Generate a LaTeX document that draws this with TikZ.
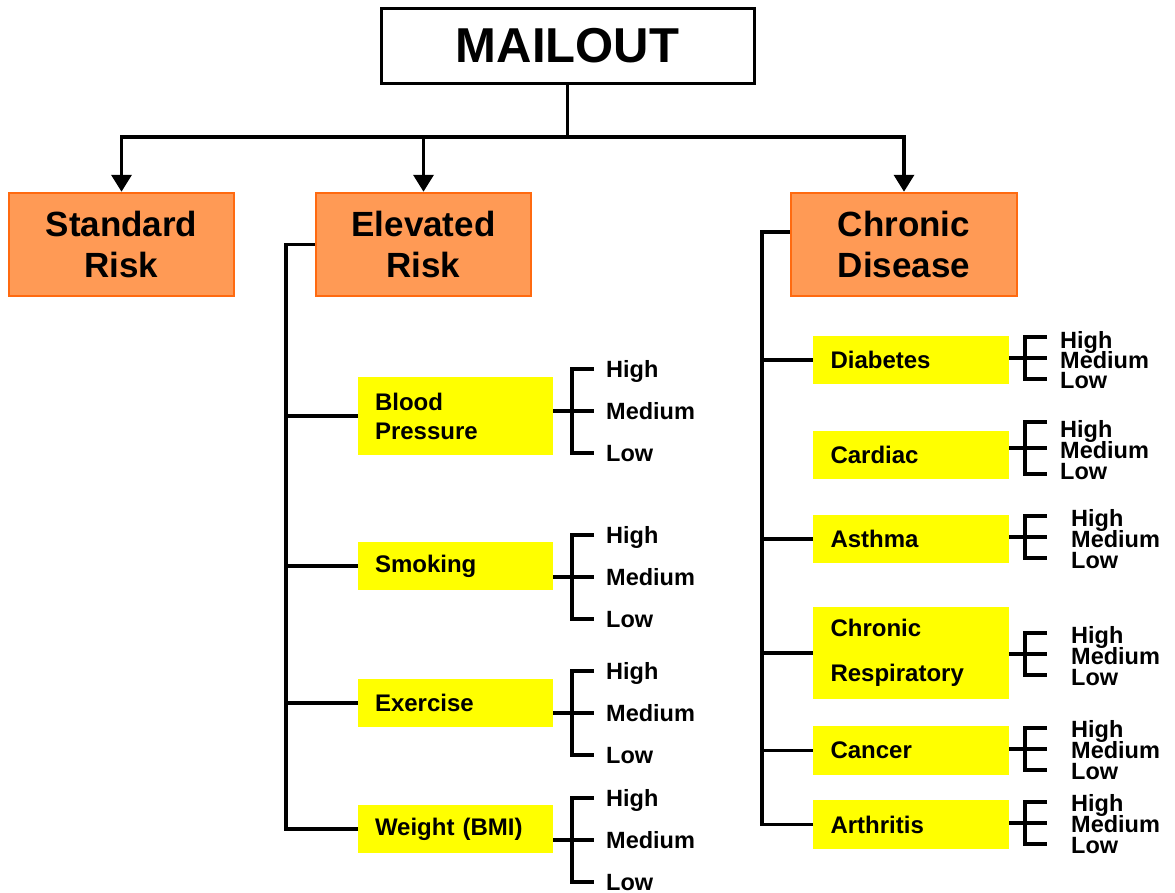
\documentclass[tikz,border=0pt]{standalone}
\usepackage{fontspec}
\setmainfont{Liberation Sans}
\usepackage{xcolor}
\usepackage{tikz}
\usetikzlibrary{arrows.meta}
\definecolor{riskfill}{HTML}{FF9A55}
\definecolor{riskedge}{HTML}{FF6A10}
\definecolor{itemfill}{HTML}{FFFF00}
\tikzset{
  headbox/.style={draw=black, line width=3pt, fill=white, minimum width=373pt, minimum height=75pt, font=\fontsize{49}{52}\selectfont\bfseries},
  riskbox/.style={draw=riskedge, fill=riskfill, line width=2.5pt, minimum height=103pt, align=center, inner sep=0pt, font=\fontsize{35}{41}\selectfont\bfseries},
  itembox/.style={fill=itemfill, minimum width=195pt, text width=161pt, inner xsep=17pt, inner ysep=0pt, align=left, font=\fontsize{24}{29}\selectfont\bfseries},
  lvl/.style={anchor=west, inner sep=0pt, text height=17pt, text depth=0pt, font=\fontsize{23.5}{25}\selectfont\bfseries},
  link/.style={draw=black, line width=3.5pt},
  down/.style={link, -{Triangle[length=17pt, width=20pt]}},
}

\begin{document}
\begin{tikzpicture}[x=1pt, y=-1pt]
  \useasboundingbox (0,0) rectangle (1175,892);
  \node[headbox] (mail) at (567.5,45.5) {MAILOUT};
  \node[riskbox, minimum width=225pt] (std) at (121.5,244.5) {Standard\\Risk};
  \node[riskbox, minimum width=215pt] (elev) at (423.5,244.5) {Elevated\\Risk};
  \node[riskbox, minimum width=226pt] (chron) at (904,244.5) {Chronic\\Disease};
  \coordinate (hub) at (567.5,137);
  \draw[link] (mail) -- (hub);
  \draw[down] (hub) -| (std.north);
  \draw[down] (hub) -| (elev.north);
  \draw[down] (hub) -| (chron.north);

  % elevated risk items
  \node[itembox, minimum height=78pt] (bp) at (455.5,416) {Blood\\Pressure};
  \node[itembox, minimum height=48pt] (smok) at (455.5,566) {Smoking};
  \node[itembox, minimum height=48pt] (exer) at (455.5,703) {Exercise};
  \node[itembox, minimum height=48pt] (wght) at (455.5,829) {Weight (BMI)};
  \draw[link] (elev.west) -- ++(-29,0) coordinate (etop) |- (wght.west);
  \foreach \item in {bp,smok,exer}
    \draw[link] (etop |- \item.west) -- (\item.west);

  % chronic disease items
  \node[itembox, minimum width=196pt, minimum height=48pt] (diab) at (911,360) {Diabetes};
  \node[itembox, minimum width=196pt, minimum height=48pt] (card) at (911,455) {Cardiac};
  \node[itembox, minimum width=196pt, minimum height=48pt] (asth) at (911,539) {Asthma};
  \node[itembox, minimum width=196pt, minimum height=92pt] (resp) at (911,653) {Chronic\\[16pt]Respiratory};
  \node[itembox, minimum width=196pt, minimum height=49pt] (canc) at (911,750.5) {Cancer};
  \node[itembox, minimum width=196pt, minimum height=49pt] (arth) at (911,824.5) {Arthritis};
  \draw[link] ([yshift=12.5pt]chron.west) -- ++(-28,0) coordinate (ctop) |- (arth.west);
  \foreach \item in {diab,asth,resp,canc}
    \draw[link] (ctop |- \item.west) -- (\item.west);

  % high / medium / low brackets
  \foreach \item/\cy/\bx/\sp/\lx/\ly/\ls in {bp/411/572/42/606/411/42, smok/577/572/42/606/577/42,
      exer/713/572/42/606/713/42, wght/840/572/42/606/840/42,
      diab/358/1025/21/1060/360/20, card/448/1025/26/1060/450/21, asth/537/1025/21/1071/539/21,
      resp/654/1025/21/1071/656/21, canc/749/1025/21/1071/750/21, arth/823/1025/21/1071/824/21}{
    \coordinate (\item-in) at (\bx,\cy);
    \draw[link] (\item.east |- \item-in) -- (\item-in) -- ++(22,0);
    \draw[link] (\bx+22,\cy-\sp) -| (\bx,\cy+\sp) -- ++(22,0);
    \node[lvl] (\item-hi) at (\lx,\ly-\ls) {High};
    \node[lvl] (\item-md) at (\lx,\ly) {Medium};
    \node[lvl] (\item-lo) at (\lx,\ly+\ls) {Low};
  }
\end{tikzpicture}
\end{document}
